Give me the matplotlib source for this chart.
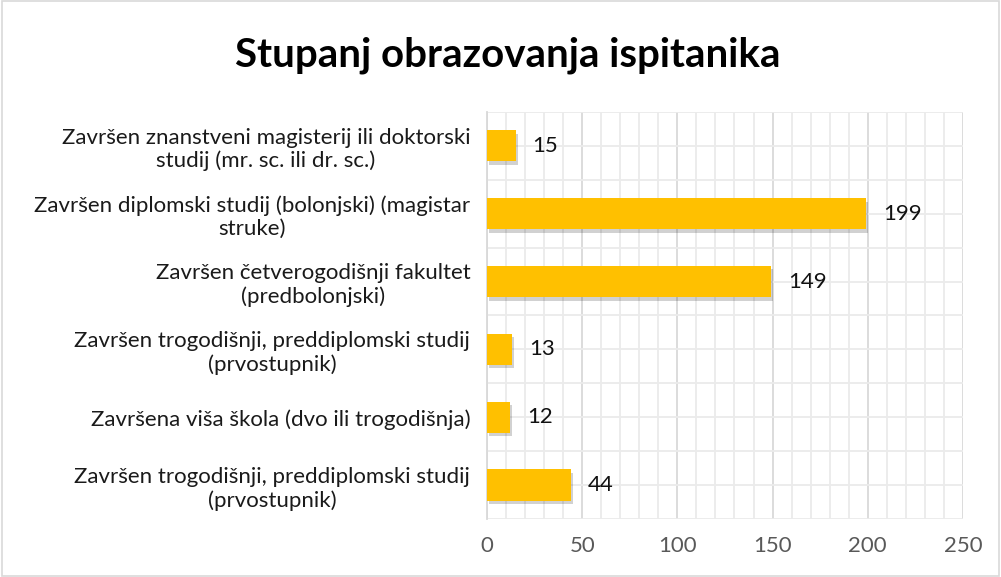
import matplotlib
matplotlib.use("Agg")
import matplotlib.pyplot as plt
import matplotlib.patheffects as pe
from matplotlib.ticker import MultipleLocator

# data (top to bottom as shown)
categories = [
    "Završen znanstveni magisterij ili doktorski\nstudij (mr. sc. ili dr. sc.)",
    "Završen diplomski studij (bolonjski) (magistar\nstruke)",
    "Završen četverogodišnji fakultet\n(predbolonjski)",
    "Završen trogodišnji, preddiplomski studij\n(prvostupnik)",
    "Završena viša škola (dvo ili trogodišnja)",
    "Završen trogodišnji, preddiplomski studij\n(prvostupnik)",
]
values = [15, 199, 149, 13, 12, 44]
x_ticks = [0, 50, 100, 150, 200, 250]

BAR = "#FFC000"
plt.rcParams["font.family"] = ["Lato", "DejaVu Sans"]

fig = plt.figure(figsize=(10.01, 5.77), dpi=100)
ax = fig.add_axes([0.4865, 0.1005, 0.4755, 0.7055])

ypos = list(range(len(categories)))
bars = ax.barh(ypos, values, height=0.46, color=BAR, zorder=3)
for b in bars:
    b.set_path_effects([pe.SimplePatchShadow(offset=(1.5, -2.5), shadow_rgbFace="#000000", alpha=0.18),
                        pe.Normal()])
for y, v in zip(ypos, values):
    ax.text(v + 9, y, str(v), va="center", ha="left", fontsize=16, color="#111111", zorder=4)

ax.set_xlim(0, 250)
ax.set_ylim(len(categories) - 0.5, -0.5)
ax.set_xticks(x_ticks)
ax.xaxis.set_minor_locator(MultipleLocator(10))
ax.set_yticks(ypos)
ax.set_yticklabels(categories, fontsize=16, color="#1A1A1A", multialignment="center")
ax.set_yticks([i - 0.5 for i in range(len(categories) + 1)], minor=True)
ax.tick_params(axis="x", which="both", length=0, labelsize=16, labelcolor="#595959", pad=12)
ax.tick_params(axis="y", which="both", length=0, pad=12)

ax.grid(axis="x", which="major", color="#D9D9D9", lw=1.3, zorder=0)
ax.grid(axis="x", which="minor", color="#EBEBEB", lw=1.3, zorder=0)
ax.grid(axis="y", which="both", color="#EBEBEB", lw=1.3, zorder=0)
for s in ["top", "right", "bottom"]:
    ax.spines[s].set_visible(False)
ax.spines["left"].set_color("#D9D9D9")
ax.spines["left"].set_linewidth(1.3)

fig.text(0.507, 0.905, "Stupanj obrazovanja ispitanika", ha="center", va="center",
         fontsize=29, fontweight="bold", color="#000000")

# outer chart border
fig.patches.append(plt.Rectangle((0.002, 0.002), 0.996, 0.996, transform=fig.transFigure,
                                 fill=False, edgecolor="#D9D9D9", lw=1.2))

fig.savefig("out.png", dpi=100)
